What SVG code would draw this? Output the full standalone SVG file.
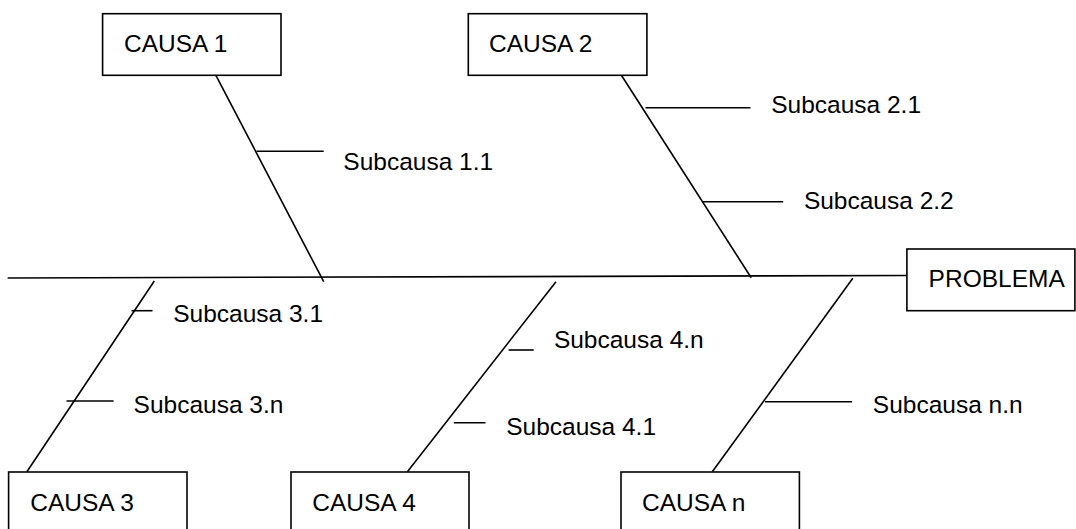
<svg xmlns="http://www.w3.org/2000/svg" width="1076" height="529" viewBox="0 0 1076 529">
<style>
.box{fill:#fff;stroke:#000;stroke-width:1.6}
.ln{stroke:#000;stroke-width:1.6;fill:none}
.t{font-family:"Liberation Sans",Arial,sans-serif;font-size:24.5px;fill:#000}
</style>
<rect width="1076" height="529" fill="#fff"/>
<g id="connectors">
<line class="ln" x1="7.6" y1="278" x2="907" y2="275.5"/>
<line class="ln" x1="215.9" y1="75.3" x2="323.7" y2="281.7"/>
<line class="ln" x1="256.5" y1="151.3" x2="323.7" y2="151.3"/>
<line class="ln" x1="621.4" y1="75.3" x2="751.2" y2="277.7"/>
<line class="ln" x1="645.5" y1="107.7" x2="750.5" y2="107.7"/>
<line class="ln" x1="703" y1="201.7" x2="783.2" y2="201.7"/>
<line class="ln" x1="154.3" y1="281" x2="26.9" y2="471.7"/>
<line class="ln" x1="131.5" y1="310.7" x2="152.5" y2="310.7"/>
<line class="ln" x1="66.5" y1="401" x2="113.6" y2="401"/>
<line class="ln" x1="556" y1="281.7" x2="407.4" y2="471.7"/>
<line class="ln" x1="508.6" y1="350" x2="533.7" y2="350"/>
<line class="ln" x1="453.8" y1="422.7" x2="485.5" y2="422.7"/>
<line class="ln" x1="852.8" y1="278.3" x2="712.3" y2="471.7"/>
<line class="ln" x1="765" y1="401.7" x2="852.1" y2="401.7"/>
</g>
<g id="causa1"><rect class="box" x="102.6" y="13.7" width="178.4" height="61.6"/><text class="t" x="124" y="51.7">CAUSA 1</text></g>
<g id="causa2"><rect class="box" x="468.3" y="13.7" width="178.6" height="61.6"/><text class="t" x="489" y="51.7">CAUSA 2</text></g>
<g id="problema"><rect class="box" x="906.9" y="249" width="168" height="61.7"/><text class="t" x="928.6" y="286.7">PROBLEMA</text></g>
<g id="causa3"><rect class="box" x="8.6" y="472" width="178.4" height="70"/><text class="t" x="30.3" y="510.7">CAUSA 3</text></g>
<g id="causa4"><rect class="box" x="291" y="472" width="178" height="70"/><text class="t" x="312.3" y="510.7">CAUSA 4</text></g>
<g id="causan"><rect class="box" x="621" y="472" width="178.4" height="70"/><text class="t" x="642" y="510.7">CAUSA n</text></g>
<g id="sub11"><text class="t" x="343.3" y="170">Subcausa 1.1</text></g>
<g id="sub21"><text class="t" x="771.2" y="112.7">Subcausa 2.1</text></g>
<g id="sub22"><text class="t" x="803.9" y="209.3">Subcausa 2.2</text></g>
<g id="sub31"><text class="t" x="173.2" y="321.7">Subcausa 3.1</text></g>
<g id="sub3n"><text class="t" x="133.6" y="413.3">Subcausa 3.n</text></g>
<g id="sub4n"><text class="t" x="553.9" y="348.3">Subcausa 4.n</text></g>
<g id="sub41"><text class="t" x="506.2" y="435">Subcausa 4.1</text></g>
<g id="subnn"><text class="t" x="872.8" y="412.7">Subcausa n.n</text></g>
</svg>
